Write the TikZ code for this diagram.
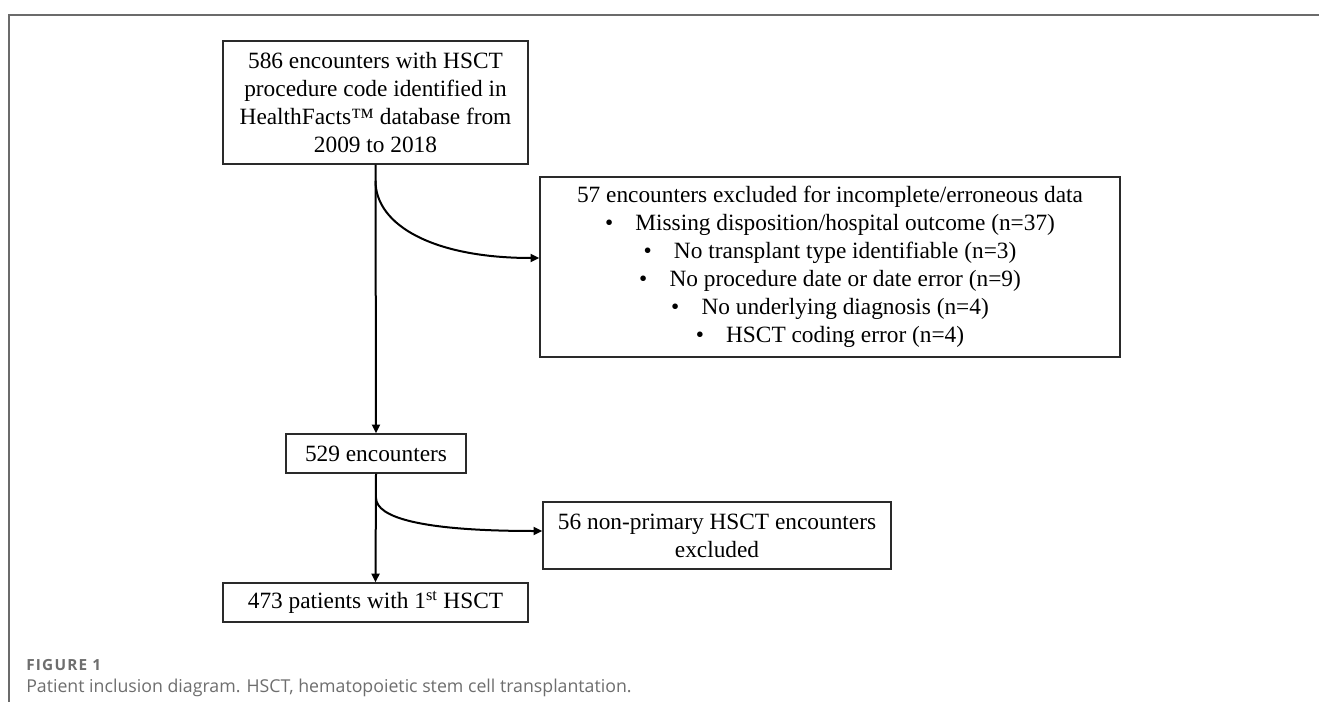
\documentclass[tikz,border=0pt]{standalone}
\usepackage{fontspec}
\setmainfont{Liberation Serif}
\newfontfamily\capfont{Open Sans}
\newfontfamily\figfont[LetterSpace=8]{Open Sans}
\usetikzlibrary{arrows.meta,calc}
\definecolor{framegray}{HTML}{6B6B6B}
\definecolor{capgray}{HTML}{6E6E6E}
\definecolor{boxline}{HTML}{2A2A2A}
\tikzset{
  box/.style={draw=boxline, line width=1.1pt, align=center, inner sep=0pt,
    font=\fontsize{17.5pt}{21pt}\selectfont},
  conn/.style={line width=1.5pt, -{Triangle[length=6.5pt,width=6pt]}}
}
\newcommand{\bl}{•\hspace{0.95em}}
\begin{document}
\begin{tikzpicture}[x=0.75pt,y=-0.75pt]
\useasboundingbox (0,0) rectangle (1319,702);
\fill[white] (0,0) rectangle (1319,702);
\draw[framegray, line width=1pt] (9,702) -- (9,15) -- (1319,15);

\node[box, minimum width=228.75pt, minimum height=92.25pt] (b1) at (375.5,102.5)
  {586 encounters with HSCT\\procedure code identified in\\HealthFacts™ database from\\2009 to 2018};
\node[box, minimum width=435pt, minimum height=135pt] (b2) at (830,267)
  {57 encounters excluded for incomplete/erroneous data\\
   \bl Missing disposition/hospital outcome (n=37)\\
   \bl No transplant type identifiable (n=3)\\
   \bl No procedure date or date error (n=9)\\
   \bl No underlying diagnosis (n=4)\\
   \bl HSCT coding error (n=4)};
\node[box, minimum width=135pt, minimum height=29.25pt] (b3) at (376,453.5)
  {529 encounters};
\node[box, minimum width=261pt, minimum height=50.25pt] (b4) at (717,535.5)
  {56 non-primary HSCT encounters\\excluded};
\node[box, minimum width=228.75pt, minimum height=29.25pt] (b5) at (375.5,602.5)
  {473 patients with 1\textsuperscript{st} HSCT};

\coordinate (br1) at ($(b1.south)+(0,16)$);
\coordinate (br2) at ($(b3.south)+(0,24)$);

\draw[conn] (b1.south) -- (b3.north);
\draw[conn] (br1) .. controls ($(br1)+(0,45)$) and ($(b2.west)+(-105,-9)$) .. ($(b2.west)+(0,-9)$);
\draw[conn] (b3.south) -- (b5.north);
\draw[conn] (br2) .. controls ($(br2)+(0,20)$) and ($(b4.west)+(-120,-4.5)$) .. ($(b4.west)+(0,-4.5)$);

\node[anchor=west, inner sep=0pt, text=capgray, font=\figfont\bfseries\fontsize{11.5pt}{13pt}\selectfont] (fig) at (26,665) {FIGURE 1};
\node[anchor=west, inner sep=0pt, text=capgray, font=\capfont\fontsize{13.3pt}{16pt}\selectfont] (cap) at (26,688) {Patient inclusion diagram. HSCT, hematopoietic stem cell transplantation.};
\end{tikzpicture}
\end{document}
